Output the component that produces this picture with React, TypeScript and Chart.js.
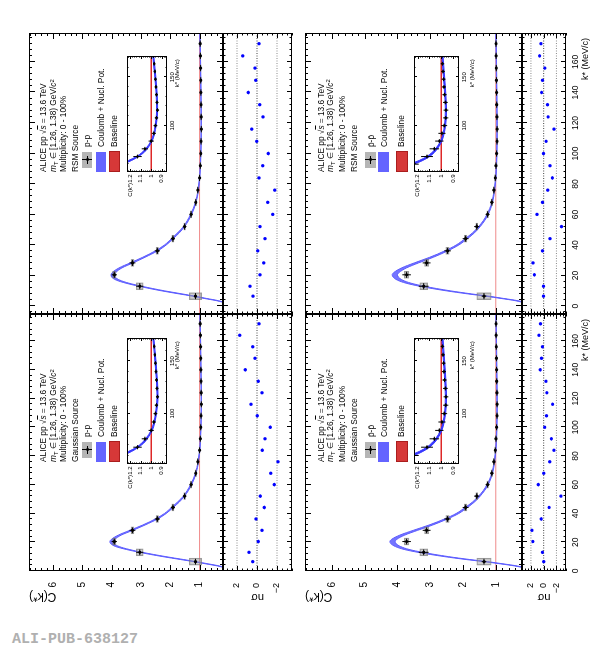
import React, { useEffect, useRef } from 'react';
import { Chart, registerables } from 'chart.js';

Chart.register(...registerables);

// ---------------- data ----------------
const kStar = [6.5, 13.0, 20.5, 28.3, 36.2, 44.2, 52.1, 60.1, 68.0, 76.0, 84.0, 92.0, 100.0, 108.0, 116.0, 124.0, 132.0, 140.0, 148.0, 156.0, 164.0, 172.0];

const ppC = [1.14, 3.04, 3.91, 3.29, 2.44, 1.91, 1.51, 1.29, 1.13, 1.06, 1.0, 0.975, 0.96, 0.95, 0.94, 0.945, 0.95, 0.955, 0.96, 0.965, 0.972, 0.98];
const ppStat = [0.05, 0.12, 0.09, 0.1, 0.09, 0.07, 0.06, 0.05, 0.04, 0.03, 0.025, 0.02, 0.018, 0.016, 0.015, 0.014, 0.013, 0.012, 0.012, 0.011, 0.011, 0.01];
const ppSys = [0.21, 0.12, 0.06, 0.05, 0.04, 0.035, 0.03, 0.025, 0.02, 0.015, 0.012, 0.01, 0.01, 0.01, 0.01, 0.01, 0.01, 0.01, 0.01, 0.01, 0.01, 0.01];

const pbC = [1.36, 3.2, 3.72, 3.11, 2.47, 1.92, 1.58, 1.25, 1.12, 1.058, 1.016, 0.994, 0.975, 0.962, 0.96, 0.965, 0.972, 0.977, 0.98, 0.985, 0.99, 0.993];
const pbStat = [0.07, 0.15, 0.13, 0.12, 0.1, 0.09, 0.08, 0.06, 0.05, 0.04, 0.035, 0.03, 0.025, 0.022, 0.02, 0.02, 0.018, 0.017, 0.016, 0.015, 0.015, 0.014];
const pbSys = [0.22, 0.12, 0.07, 0.06, 0.05, 0.04, 0.03, 0.025, 0.02, 0.015, 0.012, 0.01, 0.01, 0.01, 0.01, 0.01, 0.01, 0.01, 0.01, 0.01, 0.01, 0.01];

const ppGaussNs = [0.43, 0.8, -0.13, -0.5, 0.1, -0.73, -0.33, -1.73, -1.37, -2.1, -0.53, -0.8, -1.33, -0.03, 0.6, -0.5, -0.13, 1.17, 0.2, 0.43, 1.73, -0.2];
const ppRsmNs = [0.4, 0.7, -0.3, -0.67, -0.07, -0.8, -0.3, -1.57, -1.07, -1.77, -0.2, -0.57, -1.13, 0.03, 0.53, -0.6, -0.27, 0.87, 0.13, 0.2, 1.43, -0.2];
const pbGaussNs = [0.0, 0.2, 1.7, 1.85, 0.4, -0.85, -2.7, 0.85, 0.0, -0.95, -1.6, -1.2, -0.15, -0.45, -1.4, -0.5, -0.35, 0.55, 0.35, 0.2, 0.75, 0.5];
const pbRsmNs = [0.03, 0.03, 1.46, 1.67, 0.18, -1.0, -2.8, 1.05, 0.18, -0.64, -1.36, -1.0, 0.03, -0.38, -1.62, -0.69, -0.59, 0.33, 0.18, -0.18, 0.64, 0.44];

const curveK = [0, 2, 3.5, 5, 6.5, 8, 10, 13, 15, 17, 19, 20.5, 22, 25, 28.3, 32, 36.2, 40, 44.2, 48, 52.1, 56, 60.1, 64, 68, 72, 76, 84, 92, 100, 108, 116, 124, 132, 140, 148, 156, 164, 172, 179];
const ppGaussFit = [0.0, 0.1, 0.35, 0.75, 1.15, 1.6, 2.2, 3.0, 3.45, 3.8, 3.97, 4.0, 3.95, 3.72, 3.33, 2.9, 2.47, 2.17, 1.93, 1.72, 1.53, 1.4, 1.29, 1.2, 1.13, 1.08, 1.045, 0.995, 0.97, 0.955, 0.945, 0.94, 0.942, 0.946, 0.952, 0.958, 0.965, 0.972, 0.98, 0.985];
const ppRsmFit = [0.0, 0.12, 0.38, 0.8, 1.2, 1.65, 2.25, 3.02, 3.46, 3.78, 3.94, 3.96, 3.92, 3.7, 3.32, 2.9, 2.47, 2.17, 1.93, 1.72, 1.53, 1.4, 1.29, 1.2, 1.13, 1.08, 1.045, 0.997, 0.972, 0.958, 0.948, 0.944, 0.945, 0.948, 0.953, 0.959, 0.966, 0.973, 0.98, 0.985];
const pbGaussFit = [0.0, 0.1, 0.38, 0.82, 1.3, 1.85, 2.5, 3.3, 3.72, 3.98, 4.12, 4.15, 4.1, 3.85, 3.45, 2.98, 2.52, 2.17, 1.9, 1.68, 1.5, 1.36, 1.25, 1.17, 1.11, 1.07, 1.04, 1.0, 0.98, 0.968, 0.962, 0.96, 0.962, 0.966, 0.97, 0.975, 0.98, 0.985, 0.99, 0.993];
const pbRsmFit = [0.0, 0.1, 0.36, 0.8, 1.27, 1.8, 2.45, 3.25, 3.66, 3.92, 4.05, 4.08, 4.03, 3.8, 3.42, 2.96, 2.51, 2.17, 1.9, 1.68, 1.5, 1.36, 1.25, 1.17, 1.11, 1.07, 1.04, 1.0, 0.98, 0.968, 0.962, 0.96, 0.962, 0.966, 0.97, 0.975, 0.98, 0.985, 0.99, 0.993];
const ppBand = [0.01, 0.02, 0.03, 0.04, 0.04, 0.05, 0.05, 0.05, 0.05, 0.06, 0.06, 0.06, 0.06, 0.05, 0.05, 0.04, 0.04, 0.03, 0.03, 0.03, 0.02, 0.02, 0.02, 0.015, 0.01, 0.01, 0.008, 0.006, 0.005, 0.005, 0.005, 0.005, 0.005, 0.005, 0.005, 0.005, 0.005, 0.005, 0.005, 0.005];
const pbBand = [0.01, 0.03, 0.035, 0.04, 0.05, 0.055, 0.06, 0.07, 0.075, 0.08, 0.08, 0.08, 0.08, 0.075, 0.065, 0.055, 0.045, 0.04, 0.035, 0.03, 0.025, 0.02, 0.02, 0.015, 0.012, 0.01, 0.008, 0.006, 0.005, 0.005, 0.005, 0.005, 0.005, 0.005, 0.005, 0.005, 0.005, 0.005, 0.005, 0.005];

const baselineValue = 1;
const nsRefLines = [0, 2, -2];

const cTickLabels = [1, 2, 3, 4, 5, 6];
const nsTickLabels = [-2, 0, 2];
const kTickLabels = [0, 20, 40, 60, 80, 100, 120, 140, 160];
const insetCTickLabels = [0.9, 1, 1.1, 1.2];
const insetKTickLabels = [100, 150];

// ---------------- style / geometry ----------------
const FONT = "'Liberation Sans', Arial, Helvetica, sans-serif";
Chart.defaults.font.family = FONT;
Chart.defaults.color = '#000';

const P = 14;
const WY = 34;
const HX = 26;
const WY_IN = 16;
const X_ERR = 2;

const C_RANGE = [0.2, 6.82];
const NS_RANGE = [-3.5, 3.4];
const IN_K_RANGE = [52, 172];
const IN_C_RANGE = [0.85, 1.23];

const BLUE = 'rgb(92, 92, 255)';
const BLUE_FILL = 'rgba(92, 92, 255, 0.85)';
const BLUE_IN = 'rgb(55, 55, 255)';
const RED_MAIN = 'rgba(232, 90, 90, 0.7)';
const RED_IN = 'rgb(222, 40, 40)';
const SYS_FILL = 'rgba(150, 150, 150, 0.45)';
const SYS_LINE = 'rgba(115, 115, 115, 0.7)';

const COLS: any = {
  L: { x0: 79, x1: 336, kMin: 0, kMax: 178.8, inX0: 186, inX1: 312, legX: 188 },
  R: { x0: 336, x1: 617, kMin: -5.2, kMax: 179, inX0: 478, inX1: 594, legX: 478 },
};
const ROWS: any = {
  T: { y0: 29, y1: 223, n1: 292, inY0: 127, inY1: 167, hxIn: 14, legOff: [14, 24.3, 33.8, 46, 58.3, 72, 85.3], boxH: 10 },
  B: { y0: 305, y1: 522, n1: 566, inY0: 414, inY1: 459, hxIn: 17, legOff: [15.8, 25, 36.7, 49.2, 65.8, 78.5, 96], boxH: 11 },
};

const panels = [
  { col: 'L', row: 'T', C: ppC, stat: ppStat, sys: ppSys, fit: ppGaussFit, band: ppBand, ns: ppGaussNs, species: 'p-p', source: 'Gaussian Source' },
  { col: 'R', row: 'T', C: ppC, stat: ppStat, sys: ppSys, fit: ppRsmFit, band: ppBand, ns: ppRsmNs, species: 'p-p', source: 'RSM Source' },
  { col: 'L', row: 'B', C: pbC, stat: pbStat, sys: pbSys, fit: pbGaussFit, band: pbBand, ns: pbGaussNs, species: 'p\u0304-p\u0304', source: 'Gaussian Source' },
  { col: 'R', row: 'B', C: pbC, stat: pbStat, sys: pbSys, fit: pbRsmFit, band: pbBand, ns: pbRsmNs, species: 'p\u0304-p\u0304', source: 'RSM Source' },
];

// ---------------- helpers ----------------
const framePlugin = {
  id: 'frame',
  beforeDatasetsDraw(chart: any, _a: any, o: any) {
    if (!o || !o.bg) return;
    const { ctx, chartArea: a } = chart;
    ctx.save();
    ctx.fillStyle = o.bg;
    ctx.fillRect(a.left, a.top, a.right - a.left, a.bottom - a.top);
    ctx.restore();
  },
  afterDraw(chart: any, _a: any, o: any) {
    const { ctx, chartArea: a, scales } = chart;
    const xs = scales.x;
    const ys = scales.y;
    ctx.save();
    ctx.strokeStyle = '#000';
    ctx.lineWidth = 1;
    ctx.strokeRect(a.left + 0.5, a.top + 0.5, a.right - a.left - 1, a.bottom - a.top - 1);
    ctx.beginPath();
    const each = (min: number, max: number, minor: number, major: number, fn: (v: number, m: boolean) => void) => {
      const start = Math.ceil((min - 1e-9) / minor);
      for (let i = start; i * minor <= max + 1e-9; i++) {
        const v = i * minor;
        const r = v / major;
        fn(v, Math.abs(r - Math.round(r)) < 1e-6);
      }
    };
    each(xs.min, xs.max, o.xMinor, o.xMajor, (v, m) => {
      const px = Math.round(xs.getPixelForValue(v)) + 0.5;
      const L = m ? o.xLen[0] : o.xLen[1];
      ctx.moveTo(px, a.bottom);
      ctx.lineTo(px, a.bottom - L);
      ctx.moveTo(px, a.top);
      ctx.lineTo(px, a.top + L);
    });
    each(ys.min, ys.max, o.yMinor, o.yMajor, (v, m) => {
      const py = Math.round(ys.getPixelForValue(v)) + 0.5;
      const L = m ? o.yLen[0] : o.yLen[1];
      ctx.moveTo(a.left, py);
      ctx.lineTo(a.left + L, py);
      ctx.moveTo(a.right, py);
      ctx.lineTo(a.right - L, py);
    });
    ctx.stroke();
    ctx.restore();
  },
};

function lin(min: number, max: number, extra: any = {}) {
  return { type: 'linear', min, max, offset: false, grid: { display: false, drawTicks: false, offset: false }, border: { display: false }, ...extra };
}
const fixedY = (w: number) => (s: any) => { s.width = w; s.paddingTop = 0; s.paddingBottom = 0; };
const fixedX = (h: number) => (s: any) => { s.height = h; s.paddingLeft = 0; s.paddingRight = 0; };
const setTicks = (values: number[]) => (s: any) => { s.ticks = values.map((v) => ({ value: v })); };
const fmt = (v: any) => { const n = Number(v); return n < 0 ? '\u2212' + Math.abs(n) : String(n); };

function errY(vals: number[], errs: number[]) {
  const out: any[] = [];
  kStar.forEach((k, i) => { out.push({ x: k, y: vals[i] - errs[i] }, { x: k, y: vals[i] + errs[i] }, { x: k, y: null }); });
  return out;
}
function errX(vals: number[], half: number) {
  const out: any[] = [];
  kStar.forEach((k, i) => { out.push({ x: k - half, y: vals[i] }, { x: k + half, y: vals[i] }, { x: k + half, y: null }); });
  return out;
}
function bandSets(p: any, color: string, fillColor: string) {
  return [
    { type: 'line', data: curveK.map((k, i) => ({ x: k, y: p.fit[i] + p.band[i] })), borderColor: color, borderWidth: 1, pointRadius: 0, fill: '+1', backgroundColor: fillColor, cubicInterpolationMode: 'monotone' },
    { type: 'line', data: curveK.map((k, i) => ({ x: k, y: p.fit[i] - p.band[i] })), borderColor: color, borderWidth: 1, pointRadius: 0, fill: false, cubicInterpolationMode: 'monotone' },
  ];
}
function baseOptions(frame: any, scales: any) {
  return {
    animation: false,
    responsive: false,
    events: [],
    layout: { padding: P },
    plugins: { legend: { display: false }, tooltip: { enabled: false }, frame },
    scales,
  };
}

function mainConfig(p: any) {
  const col = COLS[p.col];
  const showY = p.col === 'L';
  const datasets = [
    { type: 'line', data: kStar.map((k, i) => ({ x: k, y: p.C[i] })), showLine: false, pointRadius: 1.6, pointBackgroundColor: '#000', pointBorderWidth: 0 },
    { type: 'line', data: errY(p.C, p.stat), borderColor: '#000', borderWidth: 1, pointRadius: 0, spanGaps: false },
    { type: 'line', data: errX(p.C, X_ERR), borderColor: '#000', borderWidth: 1, pointRadius: 0, spanGaps: false },
    { type: 'bar', data: kStar.map((k, i) => ({ x: k, y: [p.C[i] - p.sys[i], p.C[i] + p.sys[i]] })), barThickness: 7, grouped: false, backgroundColor: SYS_FILL, borderColor: SYS_LINE, borderWidth: 0.7, borderSkipped: false },
    ...bandSets(p, BLUE, BLUE_FILL),
    { type: 'line', data: [{ x: col.kMin, y: baselineValue }, { x: col.kMax, y: baselineValue }], borderColor: RED_MAIN, borderWidth: 1, pointRadius: 0 },
  ];
  const yScale: any = lin(C_RANGE[0], C_RANGE[1], { display: showY });
  if (showY) {
    yScale.afterFit = fixedY(WY);
    yScale.afterBuildTicks = setTicks(cTickLabels);
    yScale.ticks = { font: { size: 10 }, padding: 11, autoSkip: false, callback: fmt, color: '#000' };
    yScale.title = { display: true, text: 'C(k*)', align: 'end', font: { size: 12 }, padding: { top: 1.3, bottom: 0 }, color: '#000' };
  }
  return {
    type: 'line',
    data: { datasets },
    options: baseOptions(
      { xMajor: 20, xMinor: 4, xLen: [6, 3], yMajor: 1, yMinor: 0.2, yLen: [6, 3] },
      { x: lin(col.kMin, col.kMax, { display: false }), y: yScale }
    ),
    plugins: [framePlugin],
  };
}

function nsConfig(p: any) {
  const col = COLS[p.col];
  const showY = p.col === 'L';
  const showX = p.row === 'B';
  const datasets: any[] = [
    { type: 'line', data: kStar.map((k, i) => ({ x: k, y: p.ns[i] })), showLine: false, pointRadius: 1.7, pointBackgroundColor: '#0000ff', pointBorderWidth: 0 },
    ...nsRefLines.map((v) => ({ type: 'line', data: [{ x: col.kMin, y: v }, { x: col.kMax, y: v }], borderColor: v === 0 ? '#444' : '#8a8a8a', borderWidth: 1, borderDash: [1, 1.5], pointRadius: 0 })),
  ];
  const xScale: any = lin(col.kMin, col.kMax, { display: showX });
  if (showX) {
    xScale.afterFit = fixedX(HX);
    xScale.afterBuildTicks = setTicks(kTickLabels);
    xScale.ticks = { font: { size: 8.5 }, padding: 5, autoSkip: false, maxRotation: 0, minRotation: 0, callback: fmt, color: '#000' };
    xScale.title = { display: true, text: 'k* (MeV/c)  ', align: 'end', font: { size: 9 }, padding: { top: 0, bottom: 0.6 }, color: '#000' };
  }
  const yScale: any = lin(NS_RANGE[0], NS_RANGE[1], { display: showY });
  if (showY) {
    yScale.afterFit = fixedY(WY);
    yScale.afterBuildTicks = setTicks(nsTickLabels);
    yScale.ticks = { font: { size: 9 }, padding: 12, autoSkip: false, callback: fmt, color: '#000' };
    yScale.title = { display: true, text: 'nσ', align: 'center', font: { size: 11 }, padding: { top: 0.9, bottom: 0 }, color: '#000' };
  }
  return {
    type: 'line',
    data: { datasets },
    options: baseOptions(
      { xMajor: 20, xMinor: 4, xLen: [5, 2.5], yMajor: 2, yMinor: 0.5, yLen: [5, 2.5] },
      { x: xScale, y: yScale }
    ),
    plugins: [framePlugin],
  };
}

function insetConfig(p: any) {
  const row = ROWS[p.row];
  const datasets = [
    { type: 'line', data: kStar.map((k, i) => ({ x: k, y: p.C[i] })), showLine: false, pointRadius: 1.2, pointBackgroundColor: '#000', pointBorderWidth: 0 },
    { type: 'line', data: errY(p.C, p.stat), borderColor: '#000', borderWidth: 1, pointRadius: 0, spanGaps: false },
    { type: 'line', data: errX(p.C, X_ERR), borderColor: '#000', borderWidth: 1, pointRadius: 0, spanGaps: false },
    ...bandSets(p, BLUE_IN, BLUE_IN),
    { type: 'line', data: [{ x: IN_K_RANGE[0], y: baselineValue }, { x: IN_K_RANGE[1], y: baselineValue }], borderColor: RED_IN, borderWidth: 1.5, pointRadius: 0 },
  ];
  const xScale: any = lin(IN_K_RANGE[0], IN_K_RANGE[1], {
    afterFit: fixedX(row.hxIn),
    afterBuildTicks: setTicks(insetKTickLabels),
    ticks: { font: { size: 6 }, padding: 2, autoSkip: false, maxRotation: 0, minRotation: 0, callback: fmt, color: '#000' },
    title: { display: true, text: 'k* (MeV/c)  ', align: 'end', font: { size: 6 }, padding: { top: 0, bottom: 0 }, color: '#000' },
  });
  const yScale: any = lin(IN_C_RANGE[0], IN_C_RANGE[1], {
    afterFit: fixedY(WY_IN),
    afterBuildTicks: setTicks(insetCTickLabels),
    ticks: { font: { size: 6 }, padding: 2.5, autoSkip: false, callback: fmt, color: '#000' },
  });
  return {
    type: 'line',
    data: { datasets },
    options: baseOptions(
      { bg: '#fff', xMajor: 50, xMinor: 10, xLen: [3, 1.5], yMajor: 0.1, yMinor: 0.02, yLen: [3, 1.5] },
      { x: xScale, y: yScale }
    ),
    plugins: [framePlugin],
  };
}

// ---------------- components ----------------
type Box = { left: number; top: number; width: number; height: number };

function ChartCanvas({ box, make }: { box: Box; make: () => any }) {
  const ref = useRef<HTMLCanvasElement>(null);
  useEffect(() => {
    const chart = new Chart(ref.current as HTMLCanvasElement, make());
    return () => chart.destroy();
  }, []);
  return (
    <canvas
      ref={ref}
      width={box.width}
      height={box.height}
      style={{ position: 'absolute', left: box.left, top: box.top, width: box.width, height: box.height }}
    />
  );
}

const subStyle: any = { fontSize: '70%', position: 'relative', top: '0.3em', verticalAlign: 'baseline' };
const supStyle: any = { fontSize: '70%', position: 'relative', top: '-0.45em', verticalAlign: 'baseline' };

function Legend({ p }: { p: any }) {
  const col = COLS[p.col];
  const row = ROWS[p.row];
  const x = col.legX;
  const y0 = row.y0;
  const o = row.legOff;
  const bh = row.boxH;
  const txt = (off: number, content: any, left: number) => (
    <div style={{ position: 'absolute', left, top: y0 + off - 5, height: 10, lineHeight: '10px', fontSize: 8.3, whiteSpace: 'nowrap', fontFamily: FONT, color: '#000' }}>{content}</div>
  );
  const symTop = y0 + o[4] - bh / 2;
  return (
    <>
      {txt(o[0], <span>ALICE pp √<i style={{ textDecoration: 'overline' }}>s</i> = 13.6 TeV</span>, x)}
      {txt(o[1], <span><i>m</i><span style={subStyle}>T</span> ∈ [1.26, 1.38)  GeV/<i>c</i><span style={supStyle}>2</span></span>, x)}
      {txt(o[2], 'Multiplicity: 0 - 100%', x)}
      {txt(o[3], p.source, x)}
      <div style={{ position: 'absolute', left: x + 4, top: symTop, width: 16, height: bh, background: 'radial-gradient(circle, #8c8c8c 0.6px, transparent 0.8px) 0 0 / 2px 2px, #d8d8d8' }} />
      <div style={{ position: 'absolute', left: x + 11.5, top: symTop, width: 1, height: bh, background: '#000' }} />
      <div style={{ position: 'absolute', left: x + 8, top: symTop + bh / 2 - 0.5, width: 8, height: 1, background: '#000' }} />
      <div style={{ position: 'absolute', left: x + 10.5, top: symTop + bh / 2 - 1.5, width: 3, height: 3, borderRadius: 2, background: '#000' }} />
      {txt(o[4], p.species, x + 25)}
      <div style={{ position: 'absolute', left: x, top: y0 + o[5] - bh / 2, width: 20, height: bh, background: 'rgb(100, 100, 255)' }} />
      {txt(o[5], 'Coulomb + Nucl. Pot.', x + 25)}
      <div style={{ position: 'absolute', left: x, top: y0 + o[6] - bh / 2, width: 19, height: bh - 1, background: 'rgb(214, 56, 56)', border: '0.5px solid rgb(170, 30, 30)' }} />
      {txt(o[6], 'Baseline', x + 25)}
    </>
  );
}

function Panel({ p }: { p: any }) {
  const col = COLS[p.col];
  const row = ROWS[p.row];
  const showY = p.col === 'L';
  const showX = p.row === 'B';
  const wy = showY ? WY : 0;
  const mainBox = { left: col.x0 - P - wy, top: row.y0 - P, width: col.x1 - col.x0 + 2 * P + wy, height: row.y1 - row.y0 + 2 * P };
  const nsBox = { left: col.x0 - P - wy, top: row.y1 - P, width: col.x1 - col.x0 + 2 * P + wy, height: row.n1 - row.y1 + 2 * P + (showX ? HX : 0) };
  const inBox = { left: col.inX0 - P - WY_IN, top: row.inY0 - P, width: col.inX1 - col.inX0 + 2 * P + WY_IN, height: row.inY1 - row.inY0 + 2 * P + row.hxIn };
  return (
    <>
      <ChartCanvas box={mainBox} make={() => mainConfig(p)} />
      <ChartCanvas box={nsBox} make={() => nsConfig(p)} />
      <ChartCanvas box={inBox} make={() => insetConfig(p)} />
      <Legend p={p} />
      <div style={{ position: 'absolute', left: col.inX0 - 11 - 30, width: 30, textAlign: 'right', top: row.inY0 + 3 - 4, height: 8, lineHeight: '8px', fontSize: 6, fontFamily: FONT, color: '#000', whiteSpace: 'nowrap' }}>C(k*)</div>
    </>
  );
}

export default function App() {
  return (
    <div style={{ position: 'absolute', left: 0, top: 0, width: 612, height: 650, overflow: 'hidden', background: '#fff' }}>
      <div style={{ position: 'absolute', left: 0, top: 0, width: 650, height: 612, transformOrigin: '0 0', transform: 'translateY(650px) rotate(-90deg)' }}>
        {panels.map((p, i) => <Panel key={i} p={p} />)}
      </div>
      <div style={{ position: 'absolute', left: 12, top: 632, fontFamily: "'Liberation Mono', 'DejaVu Sans Mono', monospace", fontWeight: 'bold', fontSize: 15, lineHeight: '15px', color: '#b0b0b0', whiteSpace: 'nowrap' }}>ALI-PUB-638127</div>
    </div>
  );
}
